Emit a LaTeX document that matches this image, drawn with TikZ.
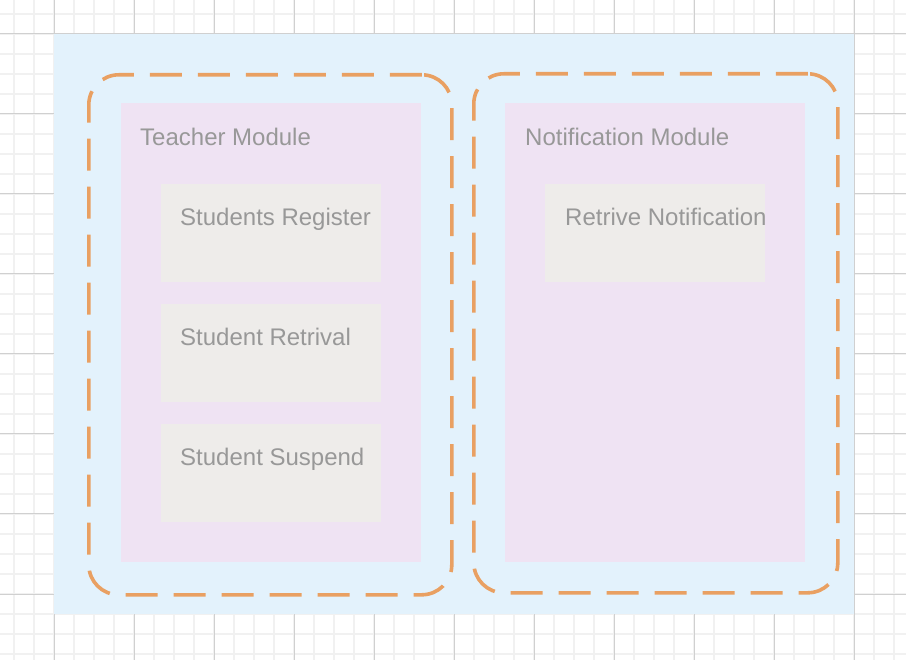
\documentclass[tikz,border=0pt]{standalone}
\usepackage{fontspec}
\setmainfont{Liberation Sans}
\usetikzlibrary{calc}
\definecolor{gridminor}{HTML}{F1F1F1}
\definecolor{gridmajor}{HTML}{D0D0D0}
\definecolor{canvasblue}{HTML}{E3F2FC}
\definecolor{modulepink}{HTML}{EFE3F3}
\definecolor{itemgray}{HTML}{EEECEA}
\definecolor{groupline}{HTML}{E9A062}
\definecolor{labelgray}{HTML}{989898}
\tikzset{
  x=1pt, y=-1pt,
  modulebox/.style={fill=modulepink, draw=none, anchor=north west, inner sep=0pt,
    minimum width=300pt, minimum height=459pt},
  itembox/.style={fill=itemgray, draw=none, anchor=north west, inner sep=0pt,
    minimum width=220pt, minimum height=98pt},
  txt/.style={anchor=base west, inner sep=0pt, text=labelgray,
    font=\fontsize{24}{28}\selectfont},
  groupbox/.style={draw=groupline, line width=3.6pt, dash pattern=on 32pt off 16pt,
    rounded corners=30pt}
}
\begin{document}
\begin{tikzpicture}
\useasboundingbox (0,0) rectangle (906,660);
% background grid
\foreach \g in {14,34,...,894} \draw[gridminor, line width=1.6pt] (\g,0) -- (\g,660);
\foreach \g in {14,34,...,654} \draw[gridminor, line width=1.6pt] (0,\g) -- (906,\g);
\foreach \g in {54,134,...,854} \draw[gridmajor, line width=1pt] (\g,0) -- (\g,660);
\foreach \g in {34,114,...,594} \draw[gridmajor, line width=1pt] (0,\g) -- (906,\g);
% canvas
\node[fill=canvasblue, anchor=north west, inner sep=0pt, minimum width=800pt,
  minimum height=580pt] (canvas) at (54,34) {};
% modules
\node[modulebox] (teacher) at (121,103) {};
\node[modulebox] (notif) at (505,103) {};
\node[txt] (teachertitle) at (140,146) {Teacher Module};
\node[txt] (notiftitle) at (525,146) {Notification Module};
% teacher items
\node[itembox] (register) at (161,184) {};
\node[itembox] (retrival) at (161,304) {};
\node[itembox] (suspend) at (161,424) {};
\node[txt] (registertext) at (180,226) {Students Register};
\node[txt] (retrivaltext) at (180,346) {Student Retrival};
\node[txt] (suspendtext) at (180,466) {Student Suspend};
% notification items
\node[itembox] (retrive) at (545,184) {};
\node[txt] (retrivetext) at (565,226) {Retrive Notification};
% dashed groups
\node[groupbox, anchor=north west, inner sep=0pt, minimum width=363pt,
  minimum height=520pt] (leftgroup) at (87,73) {};
\node[groupbox, anchor=north west, inner sep=0pt, minimum width=364pt,
  minimum height=519pt] (rightgroup) at (472,72) {};
\end{tikzpicture}
\end{document}
